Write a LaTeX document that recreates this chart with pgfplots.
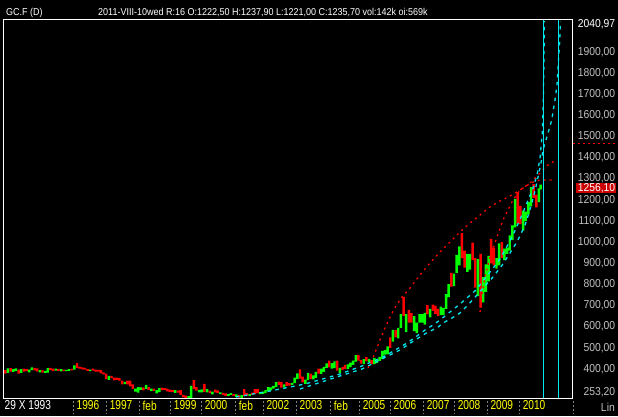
\documentclass[border=0pt]{standalone}
\usepackage{fontspec}
\setmainfont{Liberation Sans}[FakeStretch=0.9]
\newfontfamily\xfont{Liberation Sans}[FakeStretch=0.78]
\usepackage{pgfplots}
\usepackage{pgfplotstable}
\pgfplotsset{compat=1.18}
\definecolor{ygold}{RGB}{255,255,0}
\definecolor{lgray}{RGB}{192,192,192}
\definecolor{cy}{RGB}{0,230,240}
\definecolor{gr}{RGB}{0,255,0}
\definecolor{rd}{RGB}{255,0,0}
\definecolor{lblred}{RGB}{204,0,0}
\definecolor{sep}{RGB}{128,128,128}

\pgfplotstableread{
t lo hi up
1993.875 368 385 0
1993.958 372 393 1
1994.042 378 395 0
1994.125 377 390 1
1994.208 380 393 1
1994.292 369 388 0
1994.375 372 390 1
1994.458 378 392 0
1994.542 380 390 0
1994.625 375 387 1
1994.708 385 398 1
1994.792 384 396 0
1994.875 378 393 0
1994.958 375 385 1
1995.042 373 385 0
1995.125 372 381 1
1995.208 373 394 1
1995.292 385 396 0
1995.375 380 392 0
1995.458 383 392 1
1995.542 382 390 0
1995.625 379 390 1
1995.708 380 387 0
1995.792 380 386 1
1995.875 382 390 1
1995.958 384 391 0
1996.042 388 408 1
1996.125 395 418 0
1996.208 392 402 0
1996.292 389 398 0
1996.375 388 396 0
1996.458 381 390 0
1996.542 380 388 1
1996.625 383 392 0
1996.708 378 388 0
1996.792 378 386 0
1996.875 370 386 0
1996.958 365 375 0
1997.042 342 368 0
1997.125 339 358 1
1997.208 347 358 0
1997.292 337 350 0
1997.375 339 350 0
1997.458 335 347 0
1997.542 318 335 0
1997.625 319 330 1
1997.708 318 335 0
1997.792 308 335 0
1997.875 296 318 0
1997.958 283 298 1
1998.042 279 305 1
1998.125 292 303 1
1998.208 289 303 0
1998.292 296 315 1
1998.375 292 305 0
1998.458 286 298 1
1998.542 287 297 0
1998.625 275 291 1
1998.708 281 300 1
1998.792 290 302 0
1998.875 290 300 0
1998.958 285 298 0
1999.042 282 293 0
1999.125 282 292 0
1999.208 278 291 1
1999.292 279 288 0
1999.375 268 290 0
1999.458 256 268 0
1999.542 254 264 0
1999.625 253.5 262 1
1999.708 254 310 1
1999.792 295 338 0
1999.875 288 305 0
1999.958 280 292 1
2000.042 280 294 1
2000.125 282 320 0
2000.208 280 295 1
2000.292 276 288 0
2000.375 270 283 1
2000.458 280 293 0
2000.542 276 289 0
2000.625 271 280 1
2000.708 268 278 0
2000.792 263 275 0
2000.875 263 272 1
2000.958 268 276 1
2001.042 263 272 0
2001.125 258 270 1
2001.208 255 268 0
2001.292 254 267 1
2001.375 262 295 0
2001.458 265 276 0
2001.542 263 272 1
2001.625 268 279 0
2001.708 271 295 0
2001.792 276 295 0
2001.875 272 281 1
2001.958 273 283 1
2002.042 276 290 1
2002.125 287 305 1
2002.208 289 304 1
2002.292 297 311 1
2002.375 305 328 1
2002.458 315 331 0
2002.542 302 330 0
2002.625 303 318 1
2002.708 311 328 0
2002.792 312 324 0
2002.875 315 325 1
2002.958 323 350 1
2003.042 343 370 1
2003.125 345 389 0
2003.208 327 354 0
2003.292 320 340 1
2003.375 338 372 1
2003.458 342 368 0
2003.542 341 360 1
2003.625 348 377 1
2003.708 368 392 0
2003.792 367 392 1
2003.875 377 400 1
2003.958 396 417 1
2004.042 398 430 0
2004.125 392 418 1
2004.208 395 427 1
2004.292 383 430 0
2004.375 372 396 1
2004.458 385 400 0
2004.542 390 410 0
2004.625 390 412 1
2004.708 399 420 1
2004.792 410 430 1
2004.875 425 456 1
2004.958 430 456 0
2005.042 416 432 0
2005.125 414 437 1
2005.208 427 446 0
2005.292 422 437 1
2005.375 413 432 0
2005.458 413 443 1
2005.542 418 433 1
2005.625 429 448 1
2005.708 437 476 1
2005.792 458 480 1
2005.875 460 497 1
2005.958 490 540 0
2006.042 520 575 1
2006.125 540 575 0
2006.208 535 585 1
2006.292 585 650 1
2006.375 640 732 0
2006.458 565 650 1
2006.542 610 670 0
2006.625 610 655 0
2006.708 570 640 1
2006.792 560 610 1
2006.875 610 650 1
2006.958 610 650 1
2007.042 600 656 1
2007.125 650 692 0
2007.208 635 675 1
2007.292 665 695 0
2007.375 650 690 0
2007.458 640 675 0
2007.542 645 685 1
2007.625 645 680 1
2007.708 675 745 1
2007.792 730 792 1
2007.875 780 845 0
2007.958 782 842 1
2008.042 845 930 1
2008.125 880 970 1
2008.208 915 1033 0
2008.292 870 950 0
2008.375 850 935 1
2008.458 860 935 1
2008.542 905 988 0
2008.625 775 915 0
2008.708 735 910 1
2008.792 681 935 0
2008.875 705 825 1
2008.958 755 885 1
2009.042 805 925 1
2009.125 890 1006 0
2009.208 880 965 0
2009.292 865 915 1
2009.375 880 985 1
2009.458 915 990 0
2009.542 905 960 1
2009.625 935 965 1
2009.708 950 1022 1
2009.792 1000 1070 1
2009.875 1060 1195 1
2009.958 1075 1227 0
2010.042 1075 1162 0
2010.125 1045 1140 1
2010.208 1090 1135 1
2010.292 1120 1180 1
2010.375 1160 1250 1
2010.458 1200 1265 0
2010.542 1155 1215 0
2010.625 1180 1245 1
2010.680 1240 1262 1
}\gold

\begin{document}
\begin{tikzpicture}
\fill[black] (0pt,0pt) rectangle (618pt,416pt);
% candle layer: stacked bars, invisible base up to the low, then the high-low range
\begin{axis}[
  at={(3pt,18pt)}, anchor=south west,
  scale only axis, width=569pt, height=378pt,
  xmin=1993.803, xmax=2011.662, ymin=253.2, ymax=2040.97,
  hide axis, ybar stacked, bar width=2.45pt,
]
\addplot[draw=none, fill=none] table[x=t, y=lo] {\gold};
\addplot[draw=none, fill=gr] table[x=t, y expr={\thisrow{up}*(\thisrow{hi}-\thisrow{lo})}] {\gold};
\addplot[draw=none, fill=rd] table[x=t, y expr={(1-\thisrow{up})*(\thisrow{hi}-\thisrow{lo})}] {\gold};
\end{axis}
\begin{axis}[
  at={(3pt,18pt)}, anchor=south west,
  scale only axis, width=569pt, height=378pt,
  xmin=1993.803, xmax=2011.662, ymin=253.2, ymax=2040.97,
  axis line style={draw=white, line width=1pt},
  /pgf/number format/assume math mode=true,
  major tick length=0pt,
  xtick style={draw=none}, ytick style={draw=none},
  xtick={1996,1997.04,1998.07,1999.05,2000.02,2001.09,2001.96,2003.0,2004.07,2004.98,2005.95,2006.99,2007.96,2008.99,2010.0},
  xticklabels={1996,1997,feb,1999,2000,feb,2002,2003,feb,2005,2006,2007,2008,2009,2010},
  xticklabel style={font=\xfont\fontsize{13}{13}\selectfont, text=ygold, anchor=north west, inner sep=0pt, xshift=3.5pt, yshift=-2.7pt},
  extra x ticks={1993.803},
  extra x tick labels={29 X 1993},
  extra x tick style={xticklabel style={text=white, xshift=-2pt}},
  yticklabel pos=right,
  ytick={288.7,400,500,600,700,800,900,1000,1100,1200,1300,1400,1500,1600,1700,1800,1900,2029.1},
  yticklabels={{253,20},{400,00},{500,00},{600,00},{700,00},{800,00},{900,00},{1000,00},{1100,00},{1200,00},{1300,00},{1400,00},{1500,00},{1600,00},{1700,00},{1800,00},{1900,00},{\textcolor{white}{2040,97}}},
  yticklabel style={font=\fontsize{11.5}{12}\selectfont, text=lgray, anchor=west, text width=38pt, align=right, inner sep=0pt, xshift=5pt, yshift=-2pt},
]
% cyan support curves
\addplot[cy, line width=1.3pt, dash pattern=on 3.5pt off 4.5pt] coordinates {
(2001.116,257.9)(2002.183,286.3)(2003.282,319.4)(2004.380,366.7)(2005.071,404.6)
(2005.730,447.1)(2006.169,485.0)(2006.483,513.3)(2006.797,546.5)(2007.048,574.8)
(2007.299,598.5)(2007.519,622.1)(2007.833,660.0)(2008.147,697.8)(2008.398,730.9)
(2008.649,764.0)(2008.869,806.6)(2009.088,849.1)(2009.339,896.4)(2009.559,953.2)
(2009.779,1014.7)(2009.967,1076.2)(2010.156,1142.4)(2010.312,1199.1)(2010.438,1246.4)
(2010.564,1307.9)(2010.658,1388.3)(2010.730,1506.5)(2010.761,1662.6)(2010.783,1851.8)
(2010.793,2036.2)};
\addplot[cy, line width=1.3pt, dash pattern=on 3.5pt off 4.5pt] coordinates {
(2003.125,295.8)(2004.380,357.3)(2005.071,390.4)(2005.950,456.6)(2006.264,480.2)
(2006.640,518.1)(2006.891,541.7)(2007.142,565.4)(2007.425,584.3)(2007.613,607.9)
(2007.896,631.6)(2008.147,655.2)(2008.398,693.1)(2008.680,740.4)(2008.869,773.5)
(2009.183,825.5)(2009.496,887.0)(2009.716,939.0)(2009.873,976.8)(2010.030,1019.4)
(2010.187,1071.4)(2010.312,1128.2)(2010.407,1180.2)(2010.501,1232.2)(2010.595,1298.4)
(2010.689,1364.7)(2010.752,1426.1)(2010.909,1506.5)(2011.025,1568.0)(2011.128,1662.6)
(2011.191,1733.6)(2011.223,1818.7)(2011.270,1922.7)(2011.301,2036.2)};

% red dotted resistance curves
\addplot[rd, line width=1.3pt, dash pattern=on 2pt off 4pt] coordinates {
(2005.259,395.1)(2005.385,432.9)(2005.510,480.2)(2005.636,527.5)(2005.793,584.3)
(2005.950,636.3)(2006.138,688.3)(2006.326,730.9)(2006.577,773.5)(2006.891,834.9)
(2007.205,891.7)(2007.519,943.7)(2007.833,991.0)(2008.147,1038.3)(2008.461,1080.9)
(2008.775,1118.7)(2009.088,1156.6)(2009.402,1184.9)(2009.716,1208.6)(2010.030,1237.0)
(2010.344,1270.1)(2010.658,1317.4)(2010.909,1355.2)(2011.160,1378.8)};
\addplot[rd, line width=1.3pt, dash pattern=on 2pt off 4pt] coordinates {
(2008.775,660.0)(2008.837,740.4)(2008.931,825.5)(2009.088,920.1)(2009.308,1014.7)
(2009.496,1095.1)(2009.810,1189.7)(2010.030,1237.0)(2010.344,1267.7)(2010.564,1281.9)
(2010.815,1284.3)(2011.066,1284.3)};

% cyan time lines
\addplot[cy, line width=1pt] coordinates {(2010.761,253.2)(2010.761,2040.97)};
\addplot[cy, line width=1pt] coordinates {(2011.232,253.2)(2011.232,2040.97)};
\end{axis}

% separators under the time axis
\foreach \sx in {73,106,139,170,201,235,263,296,330,359,390,423,454,487,519,573}
  \draw[sep, line width=1pt, dash pattern=on 2pt off 2pt] (\sx pt,15pt) -- (\sx pt,2pt);
% red level mark beside the price scale
\draw[rd, line width=1pt, dash pattern=on 2pt off 3pt] (573pt,273pt) -- (618pt,273pt);
% last price tag
\node[fill=lblred, text=white, anchor=west, inner xsep=1pt, inner ysep=0.5pt, text width=38pt, align=right,
  font=\fontsize{11.5}{12}\selectfont] at (576pt,228pt) {1256,10};
% scale type
\node[text=lgray, anchor=east, inner sep=0pt, font=\fontsize{11.5}{12}\selectfont] at (615pt,9pt) {Lin};
% header
\node[text=white, anchor=base west, inner sep=0pt, font=\fontsize{10}{12}\selectfont] at (6pt,400.3pt) {GC.F (D)};
\node[text=white, anchor=base west, inner sep=0pt, font=\fontsize{10}{12}\selectfont] at (98pt,400.3pt) {2011-VIII-10wed R:16 O:1222,50 H:1237,90 L:1221,00 C:1235,70 vol:142k oi:569k};
\pgfresetboundingbox
\useasboundingbox (0pt,0pt) rectangle (618pt,416pt);
\end{tikzpicture}
\end{document}
